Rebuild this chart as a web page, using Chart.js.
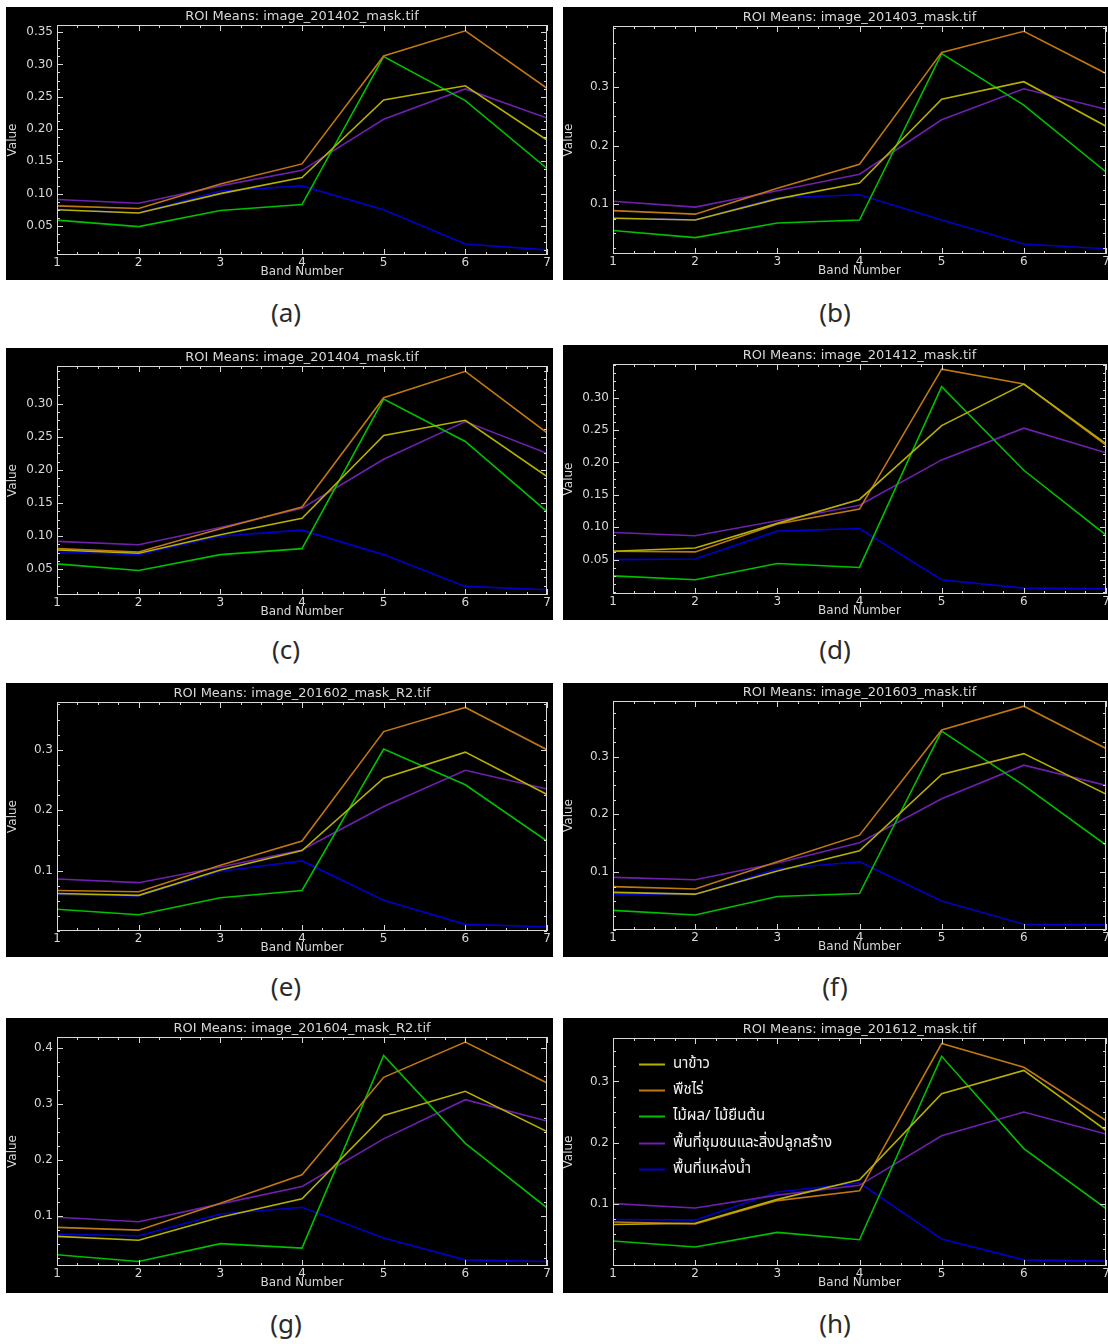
<!DOCTYPE html>
<html>
<head>
<meta charset="utf-8">
<script src="https://cdn.jsdelivr.net/npm/chart.js@4.4.1/dist/chart.umd.min.js"></script>
<style>
  body { margin: 0; background: #fff; width: 1108px; height: 1344px; position: relative; overflow: hidden; }
  .panel { position: absolute; background: #000; }
  .cap { position: absolute; width: 80px; margin-left: -40px; text-align: center;
         font: 26px "Noto Sans", "Open Sans", sans-serif; color: #2a2a2a; line-height: 30px; }
</style>
</head>
<body>
<script>
// ---- data ----
var bands = [1, 2, 3, 4, 5, 6, 7];
var captions = ["(a)", "(b)", "(c)", "(d)", "(e)", "(f)", "(g)", "(h)"];
var titles = [
    "ROI Means: image_201402_mask.tif",
    "ROI Means: image_201403_mask.tif",
    "ROI Means: image_201404_mask.tif",
    "ROI Means: image_201412_mask.tif",
    "ROI Means: image_201602_mask_R2.tif",
    "ROI Means: image_201603_mask.tif",
    "ROI Means: image_201604_mask_R2.tif",
    "ROI Means: image_201612_mask.tif"
];
var seriesNames = ["นาข้าว", "พืชไร่", "ไม้ผล/ ไม้ยืนต้น", "พื้นที่ชุมชนและสิ่งปลูกสร้าง", "พื้นที่แหล่งน้ำ"];

var yMin = [0.005, 0.015, 0.011, -0.003, 0.0, 0.0, 0.011, -0.002];
var yMax = [0.361, 0.404, 0.357, 0.352, 0.379, 0.396, 0.420, 0.371];
var yTicks = [
    ["0.05", "0.10", "0.15", "0.20", "0.25", "0.30", "0.35"],
    ["0.1", "0.2", "0.3"],
    ["0.05", "0.10", "0.15", "0.20", "0.25", "0.30"],
    ["0.05", "0.10", "0.15", "0.20", "0.25", "0.30"],
    ["0.1", "0.2", "0.3"],
    ["0.1", "0.2", "0.3"],
    ["0.1", "0.2", "0.3", "0.4"],
    ["0.1", "0.2", "0.3"]
];

// one row per panel (a..h), one value per band
var rice = [
    [0.075, 0.070, 0.100, 0.125, 0.245, 0.267, 0.183],
    [0.076, 0.073, 0.109, 0.136, 0.279, 0.309, 0.233],
    [0.079, 0.074, 0.102, 0.127, 0.252, 0.275, 0.190],
    [0.063, 0.068, 0.106, 0.143, 0.257, 0.321, 0.229],
    [0.062, 0.059, 0.101, 0.133, 0.253, 0.296, 0.226],
    [0.065, 0.062, 0.102, 0.137, 0.269, 0.305, 0.235],
    [0.064, 0.057, 0.098, 0.131, 0.280, 0.323, 0.251],
    [0.066, 0.068, 0.107, 0.139, 0.280, 0.318, 0.220]
];
var fieldCrop = [
    [0.081, 0.077, 0.115, 0.146, 0.313, 0.352, 0.263],
    [0.089, 0.083, 0.127, 0.168, 0.359, 0.395, 0.323],
    [0.081, 0.076, 0.111, 0.144, 0.309, 0.349, 0.256],
    [0.063, 0.062, 0.105, 0.128, 0.344, 0.321, 0.227],
    [0.067, 0.065, 0.109, 0.149, 0.330, 0.370, 0.300],
    [0.075, 0.071, 0.118, 0.164, 0.346, 0.387, 0.314],
    [0.080, 0.075, 0.123, 0.174, 0.348, 0.411, 0.338],
    [0.070, 0.067, 0.105, 0.121, 0.362, 0.323, 0.236]
];
var orchard = [
    [0.059, 0.049, 0.074, 0.083, 0.312, 0.244, 0.139],
    [0.055, 0.043, 0.068, 0.073, 0.357, 0.269, 0.155],
    [0.058, 0.048, 0.072, 0.081, 0.307, 0.243, 0.137],
    [0.025, 0.019, 0.044, 0.038, 0.317, 0.188, 0.088],
    [0.036, 0.027, 0.055, 0.067, 0.301, 0.242, 0.149],
    [0.034, 0.026, 0.058, 0.063, 0.344, 0.250, 0.147],
    [0.031, 0.019, 0.051, 0.043, 0.387, 0.230, 0.115],
    [0.039, 0.029, 0.053, 0.041, 0.341, 0.190, 0.092]
];
var urban = [
    [0.091, 0.085, 0.112, 0.136, 0.215, 0.262, 0.217],
    [0.105, 0.095, 0.123, 0.151, 0.244, 0.297, 0.262],
    [0.092, 0.087, 0.113, 0.142, 0.216, 0.273, 0.225],
    [0.092, 0.087, 0.110, 0.134, 0.204, 0.253, 0.215],
    [0.086, 0.080, 0.106, 0.134, 0.206, 0.266, 0.235],
    [0.091, 0.087, 0.116, 0.151, 0.227, 0.285, 0.250],
    [0.098, 0.090, 0.122, 0.153, 0.238, 0.308, 0.270],
    [0.100, 0.093, 0.114, 0.130, 0.211, 0.250, 0.214]
];
var water = [
    [0.075, 0.070, 0.104, 0.112, 0.075, 0.022, 0.013],
    [0.077, 0.073, 0.111, 0.116, 0.073, 0.032, 0.024],
    [0.076, 0.072, 0.100, 0.109, 0.072, 0.024, 0.019],
    [0.050, 0.051, 0.094, 0.098, 0.019, 0.006, 0.005],
    [0.060, 0.058, 0.099, 0.116, 0.051, 0.011, 0.007],
    [0.062, 0.061, 0.106, 0.118, 0.050, 0.010, 0.009],
    [0.068, 0.065, 0.104, 0.116, 0.061, 0.022, 0.019],
    [0.074, 0.073, 0.119, 0.134, 0.042, 0.008, 0.006]
];
var series = [rice, fieldCrop, orchard, urban, water];

// ---- styles / layout ----
var seriesColors = ["#b8b000", "#c07810", "#00c000", "#7020b0", "#0000c8"];
var axisColor = "#d8d8d8";
var tickFont = '12px "DejaVu Sans", sans-serif';
var titleFont = '13px "DejaVu Sans", sans-serif';
var legendFont = '15px "Noto Sans Thai", "Noto Sans", sans-serif';

// black box of each panel and the padding that puts the plot area in place
var panels = [
    { left: 6,   top: 7,    w: 547, h: 273, pad: { left: 51, right: 6, top: 18, bottom: 25 }, capX: 286, capY: 312 },
    { left: 563, top: 7,    w: 545, h: 273, pad: { left: 50, right: 2, top: 19, bottom: 26 }, capX: 835, capY: 312 },
    { left: 6,   top: 348,  w: 547, h: 272, pad: { left: 51, right: 6, top: 18, bottom: 25 }, capX: 286, capY: 649 },
    { left: 563, top: 345,  w: 545, h: 275, pad: { left: 50, right: 2, top: 19, bottom: 26 }, capX: 835, capY: 649 },
    { left: 6,   top: 683,  w: 547, h: 274, pad: { left: 51, right: 6, top: 19, bottom: 26 }, capX: 286, capY: 986 },
    { left: 563, top: 683,  w: 545, h: 274, pad: { left: 50, right: 2, top: 18, bottom: 27 }, capX: 835, capY: 986 },
    { left: 6,   top: 1018, w: 547, h: 275, pad: { left: 51, right: 6, top: 19, bottom: 27 }, capX: 286, capY: 1323 },
    { left: 563, top: 1018, w: 545, h: 275, pad: { left: 50, right: 2, top: 20, bottom: 27 }, capX: 835, capY: 1323 }
];

// IDL style box axes: frame, inward ticks on all sides, labels and titles
var idlAxes = {
    id: "idlAxes",
    afterDatasetsDraw: function (chart, args, opts) {
        var ctx = chart.ctx, ca = chart.chartArea;
        var x = chart.scales.x, y = chart.scales.y;
        ctx.save();
        ctx.strokeStyle = axisColor;
        ctx.fillStyle = axisColor;
        ctx.lineWidth = 1;
        ctx.strokeRect(Math.round(ca.left) + 0.5, Math.round(ca.top) + 0.5,
            Math.round(ca.right - ca.left) - 1, Math.round(ca.bottom - ca.top) - 1);

        ctx.beginPath();
        // x ticks, major every band, minor every quarter band
        var n = (bands[bands.length - 1] - bands[0]) * 4;
        for (var k = 0; k <= n; k++) {
            var v = bands[0] + k / 4;
            var px = Math.round(x.getPixelForValue(v)) + 0.5;
            var len = (k % 4 === 0) ? 6 : 3;
            ctx.moveTo(px, ca.bottom); ctx.lineTo(px, ca.bottom - len);
            ctx.moveTo(px, ca.top); ctx.lineTo(px, ca.top + len);
        }
        // y ticks, major from the labels, 4 minor intervals each
        var ticks = opts.yTicks.map(parseFloat);
        var step = (ticks[1] - ticks[0]) / 4;
        var k0 = Math.ceil(y.min / step - 1e-6), k1 = Math.floor(y.max / step + 1e-6);
        for (var j = k0; j <= k1; j++) {
            var val = j * step;
            var py = Math.round(y.getPixelForValue(val)) + 0.5;
            var major = ticks.some(function (t) { return Math.abs(t - val) < step / 10; });
            var l = major ? 6 : 3;
            ctx.moveTo(ca.left, py); ctx.lineTo(ca.left + l, py);
            ctx.moveTo(ca.right, py); ctx.lineTo(ca.right - l, py);
        }
        ctx.stroke();

        ctx.font = tickFont;
        ctx.textAlign = "center";
        ctx.textBaseline = "middle";
        bands.forEach(function (b) {
            ctx.fillText(String(b), x.getPixelForValue(b), ca.bottom + 8);
        });
        ctx.textAlign = "right";
        opts.yTicks.forEach(function (t) {
            ctx.fillText(t, ca.left - 4, y.getPixelForValue(parseFloat(t)));
        });

        var midX = (ca.left + ca.right) / 2;
        ctx.textAlign = "center";
        ctx.fillText("Band Number", midX, ca.bottom + 17);
        ctx.font = titleFont;
        ctx.fillText(opts.title, midX, ca.top - 8);

        ctx.font = tickFont;
        ctx.translate(ca.left - 44, (ca.top + ca.bottom) / 2);
        ctx.rotate(-Math.PI / 2);
        ctx.fillText("Value", 0, 0);
        ctx.restore();

        if (opts.legend) {
            ctx.save();
            ctx.font = legendFont;
            ctx.textAlign = "left";
            ctx.textBaseline = "middle";
            chart.data.datasets.forEach(function (ds, k) {
                var ly = Math.round(ca.top + 26 + k * 26.2) + 0.5;
                ctx.strokeStyle = ds.borderColor;
                ctx.lineWidth = 2;
                ctx.beginPath();
                ctx.moveTo(ca.left + 26, ly);
                ctx.lineTo(ca.left + 52, ly);
                ctx.stroke();
                ctx.fillStyle = "#f2f2f2";
                ctx.fillText(ds.label, ca.left + 60, ly);
            });
            ctx.restore();
        }
    }
};

panels.forEach(function (p, i) {
    var div = document.createElement("div");
    div.className = "panel";
    div.style.left = p.left + "px";
    div.style.top = p.top + "px";
    div.style.width = p.w + "px";
    div.style.height = p.h + "px";
    var canvas = document.createElement("canvas");
    canvas.width = p.w;
    canvas.height = p.h;
    canvas.style.width = p.w + "px";
    canvas.style.height = p.h + "px";
    div.appendChild(canvas);
    document.body.appendChild(div);

    var cap = document.createElement("div");
    cap.className = "cap";
    cap.style.left = p.capX + "px";
    cap.style.top = (p.capY - 15) + "px";
    cap.textContent = captions[i];
    document.body.appendChild(cap);

    new Chart(canvas.getContext("2d"), {
        type: "line",
        data: {
            datasets: series.map(function (s, k) {
                return {
                    label: seriesNames[k],
                    data: bands.map(function (b, j) { return { x: b, y: s[i][j] }; }),
                    borderColor: seriesColors[k],
                    borderWidth: 1.6,
                    pointRadius: 0,
                    tension: 0
                };
            })
        },
        options: {
            responsive: false,
            animation: false,
            devicePixelRatio: 1,
            layout: { padding: p.pad },
            scales: {
                x: { type: "linear", min: bands[0], max: bands[bands.length - 1], display: false },
                y: { type: "linear", min: yMin[i], max: yMax[i], display: false }
            },
            plugins: {
                legend: { display: false },
                tooltip: { enabled: false },
                idlAxes: { title: titles[i], yTicks: yTicks[i], legend: i === 7 }
            }
        },
        plugins: [idlAxes]
    });
});
</script>
</body>
</html>
